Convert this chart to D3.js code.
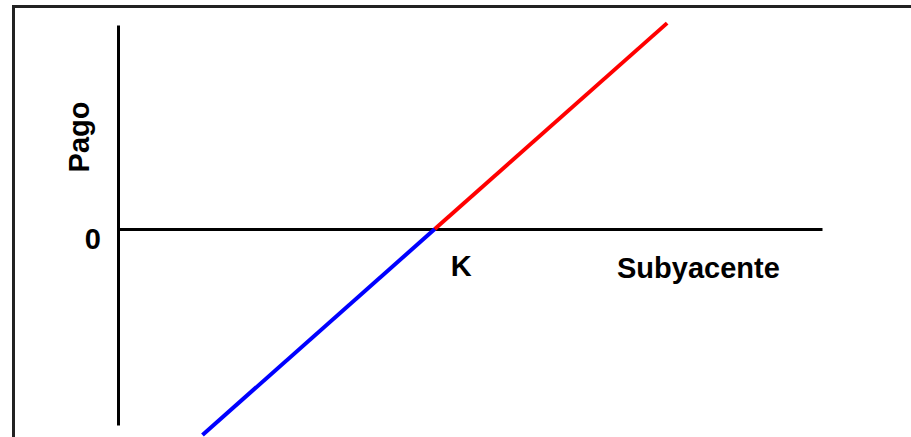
<!DOCTYPE html>
<html>
<head>
<meta charset="utf-8">
<script src="https://cdn.jsdelivr.net/npm/d3@7"></script>
<style>
  body { margin: 0; background: #fff; }
  text { font-family: "Liberation Sans", Arial, sans-serif; font-weight: bold; }
</style>
</head>
<body>
<div id="chart"></div>
<script>
const WIDTH = 911, HEIGHT = 437;

// underlying price and payoff of a long forward, split at the strike
var lossUnderlying = [12, 45], lossPayoff = [-33, 0];
var gainUnderlying = [45, 78], gainPayoff = [0, 33];
var xTickValues = [45], xTickLabels = ["K"];
var yTickValues = [0], yTickLabels = ["0"];
var xTitle = "Subyacente", yTitle = "Pago";

var svg = d3.select("#chart").append("svg")
    .attr("width", WIDTH)
    .attr("height", HEIGHT);

// frame (only top and left visible in the picture)
svg.append("path")
    .attr("d", "M13.5," + HEIGHT + "V6.5H" + WIDTH)
    .attr("fill", "none")
    .attr("stroke", "#222")
    .attr("stroke-width", 3);

var xScale = d3.scaleLinear().domain([0, 100]).range([118, 822]);
var yScale = d3.scaleLinear().domain([-31.4, 32.7]).range([425, 25]);

var xAxis = d3.axisBottom(xScale)
    .tickValues(xTickValues)
    .tickFormat(function (d, i) { return xTickLabels[i]; })
    .tickSize(0)
    .tickSizeOuter(0);
var yAxis = d3.axisLeft(yScale)
    .tickValues(yTickValues)
    .tickFormat(function (d, i) { return yTickLabels[i]; })
    .tickSize(0)
    .tickSizeOuter(0);

var gx = svg.append("g")
    .attr("transform", "translate(0," + yScale(0) + ")")
    .call(xAxis);
var gy = svg.append("g")
    .attr("transform", "translate(" + xScale(0) + ",0)")
    .call(yAxis);

[gx, gy].forEach(function (g) {
    g.attr("font-size", null).attr("font-family", null);
    g.select(".domain").attr("stroke", "#000").attr("stroke-width", 3);
    g.selectAll("text")
        .attr("fill", "#000")
        .style("font-size", "29px");
});
gx.selectAll(".tick text").attr("dy", null).attr("y", 47).attr("x", 26);
gy.selectAll(".tick text").attr("dy", null).attr("x", -17).attr("y", 19);

var line = d3.line()
    .x(function (d) { return xScale(d[0]); })
    .y(function (d) { return yScale(d[1]); });

svg.append("path")
    .attr("d", line(d3.zip(lossUnderlying, lossPayoff)))
    .attr("fill", "none")
    .attr("stroke", "#0000ff")
    .attr("stroke-width", 4);
svg.append("path")
    .attr("d", line(d3.zip(gainUnderlying, gainPayoff)))
    .attr("fill", "none")
    .attr("stroke", "#ff0000")
    .attr("stroke-width", 4);

svg.append("text")
    .attr("x", 617)
    .attr("y", 278)
    .style("font-size", "29px")
    .text(xTitle);

svg.append("text")
    .attr("transform", "translate(89,137) rotate(-90)")
    .attr("text-anchor", "middle")
    .style("font-size", "29px")
    .text(yTitle);
</script>
</body>
</html>
